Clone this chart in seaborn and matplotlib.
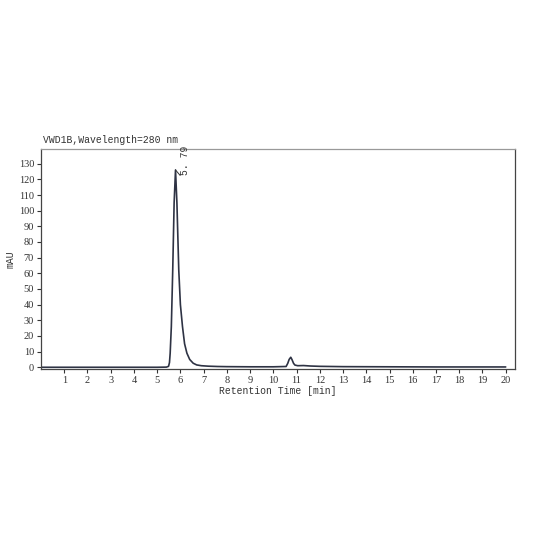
import pandas as pd
import matplotlib.pyplot as plt
import seaborn as sns

# Chromatogram (VWD1B, 280 nm)
time_min = [0.0, 2.0, 4.0, 5.0, 5.4, 5.49, 5.53, 5.56, 5.61, 5.67, 5.73, 5.79,
            5.85, 5.93, 6.0, 6.09, 6.18, 6.28, 6.4, 6.55, 6.7, 6.9, 7.2, 7.6,
            8.0, 9.0, 10.0, 10.55, 10.62, 10.68, 10.75, 10.8, 10.87, 10.93,
            11.05, 11.3, 11.6, 12.0, 13.0, 15.0, 17.0, 20.0]
signal_mau = [0.0, 0.0, 0.0, 0.0, 0.1, 0.6, 3.0, 9.0, 26.0, 62.0, 105.0, 126.0,
              105.0, 62.0, 40.0, 26.0, 15.0, 9.0, 5.0, 2.6, 1.5, 1.0, 0.7, 0.5,
              0.4, 0.3, 0.3, 0.5, 2.5, 5.0, 6.4, 5.0, 2.5, 1.4,
              1.0, 1.1, 0.8, 0.6, 0.4, 0.3, 0.2, 0.2]
peak_rt = 5.79
peak_height = 126.0

df = pd.DataFrame({'Time': time_min, 'mAU': signal_mau})

sns.set_style('white')
plt.rcParams['font.family'] = ['Liberation Serif', 'DejaVu Serif']

fig = plt.figure(figsize=(5.33, 5.33), dpi=100)
ax = fig.add_axes([0.0769, 0.3077, 0.8893, 0.4128])

sns.lineplot(data=df, x='Time', y='mAU', ax=ax, color='#2e3344', linewidth=1.2)

ax.set_xlim(0, 20.4)
ax.set_ylim(-1.1, 139.4)
ax.set_xticks(range(1, 21))
ax.set_yticks(range(0, 131, 10))
ax.tick_params(axis='both', direction='out', length=3, width=0.8, color='#333333',
               labelsize=7.5, labelcolor='#333333', pad=2,
               bottom=True, left=True)

for side in ['left', 'bottom', 'right', 'top']:
    ax.spines[side].set_color('#444444')
    ax.spines[side].set_linewidth(0.9)
ax.spines['top'].set_color('#999999')

ax.set_xlabel('Retention Time [min]', fontsize=7, family=['Liberation Mono'],
              color='#333333', labelpad=1)
ax.set_ylabel('mAU', fontsize=7, family=['Liberation Mono'], color='#333333',
              labelpad=2)
ax.text(0.005, 1.02, 'VWD1B,Wavelength=280 nm', transform=ax.transAxes,
        fontsize=7, family=['Liberation Mono'], color='#333333', ha='left', va='bottom')

# Peak label with short leader
ax.plot([peak_rt, peak_rt + 0.2], [peak_height, peak_height - 3.5],
        color='#333333', linewidth=0.7)
ax.text(peak_rt + 0.2, peak_height - 3.5, f'{peak_rt:.2f}'.replace('.', '. '),
        rotation=90, fontsize=7, family=['Liberation Mono'], color='#333333',
        ha='left', va='bottom')

plt.savefig('out.png', dpi=100)
plt.close()
